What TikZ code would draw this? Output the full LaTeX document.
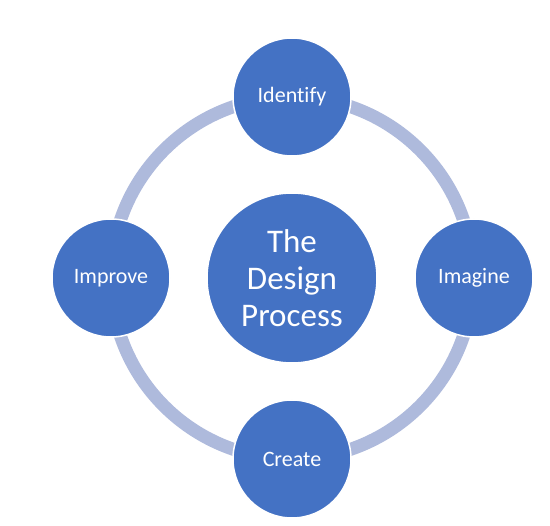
\documentclass[tikz,border=0pt]{standalone}
\usepackage{fontspec}
\setmainfont{Carlito}[Ligatures = NoCommon]
\definecolor{stepblue}{RGB}{68,114,196}
\definecolor{ringblue}{RGB}{174,186,220}

\begin{document}
\begin{tikzpicture}[x = 1pt, y = -1pt,
  stage/.style = {circle, fill = stepblue, draw = white, line width = 1.5pt,
    minimum size = 118pt, inner sep = 0pt, text = white, font = \fontsize{22}{26}\selectfont},
  hub/.style = {stage, minimum size = 170pt, align = center, font = \fontsize{33}{37}\selectfont}]
\useasboundingbox (0, 0) rectangle (550, 526);
% Ring
\coordinate (mid) at (292, 278);
\draw[ringblue, line width = 13pt] (mid) circle[radius = 181pt];
% Circles
\node[hub] (design) at (mid) {The\\Design\\Process};
\node[stage] (identify) at (292, 97) {Identify};
\node[stage] (imagine) at (474, 278) {Imagine};
\node[stage] (create) at (292, 459) {Create};
\node[stage] (improve) at (111, 278) {Improve};
\end{tikzpicture}
\end{document}
